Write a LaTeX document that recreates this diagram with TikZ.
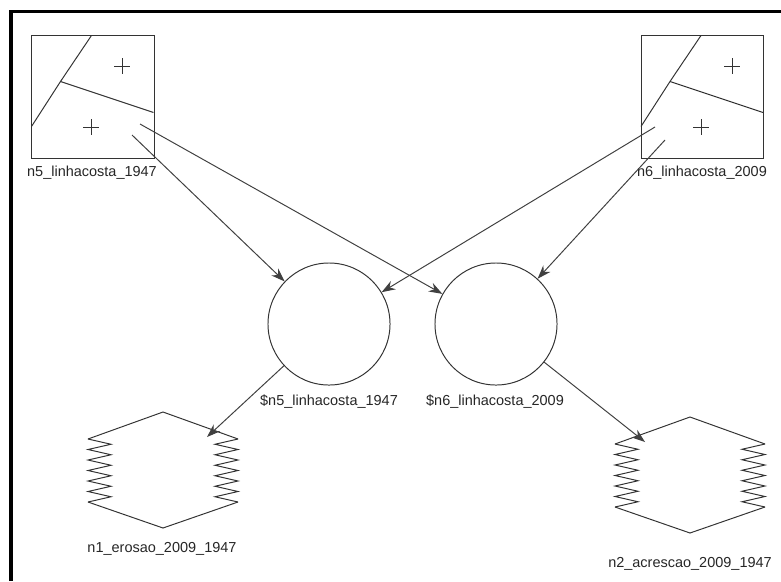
\documentclass[tikz,border=0pt]{standalone}
\usepackage{fontspec}
\setmainfont{Liberation Sans}
\usetikzlibrary{arrows.meta}

% hexagon with jagged sides, centred at (#1,#2)
\newcommand{\hexicon}[2]{%
  \begin{scope}[shift={(#1,#2)}]
    \draw[outl] (-75,-31) -- (0,-58) -- (75,-31);
    \draw[outl] (-75,32) -- (0,58) -- (75,32);
    \draw[outl] (-75,-31) \foreach \k in {0,...,5} { -- (-52,{-31+10.5*\k+5.25}) -- (-75,{-31+10.5*(\k+1)}) };
    \draw[outl] (75,-31) \foreach \k in {0,...,5} { -- (52,{-31+10.5*\k+5.25}) -- (75,{-31+10.5*(\k+1)}) };
  \end{scope}}

% polygons and centroids inside a map box
\newcommand{\mapicon}[1]{%
  \begin{scope}[shift={(#1.north west)}]
    \draw[outl] (60,0) -- (29,46) -- (0,91);
    \draw[outl] (29,46) -- (122,77);
    \draw[outl] (83,31) -- (99,31) (91,23) -- (91,39);
    \draw[outl] (52,92) -- (68,92) (60,84) -- (60,100);
  \end{scope}}

\begin{document}
\begin{tikzpicture}[x=0.025cm, y=-0.025cm, font=\fontsize{10.3}{12}\selectfont,
    outl/.style={draw=black!80, line width=0.7pt},
    mapbox/.style={rectangle, draw=black!80, line width=0.7pt, minimum size=3.05cm, inner sep=0},
    ring/.style={circle, draw=black!80, line width=0.7pt, minimum size=3.05cm, inner sep=0},
    lbl/.style={inner sep=0, text=black!85},
    conn/.style={draw=black!75, line width=0.7pt, -{Stealth[length=0.34cm, width=0.24cm]}}]
  \useasboundingbox (0,0) rectangle (781,581);
  \draw[line width=2.8pt] (11,581) -- (11,11.5) -- (781,11.5);

  % input maps
  \node[mapbox] (n5) at (93,97) {};
  \node[mapbox] (n6) at (702.5,97) {};
  \mapicon{n5}
  \mapicon{n6}
  \node[lbl] (n5lbl) at (92,173) {n5\_linhacosta\_1947};
  \node[lbl] (n6lbl) at (702,173) {n6\_linhacosta\_2009};

  % operations
  \node[ring] (c1) at (329,324) {};
  \node[ring] (c2) at (496,324) {};
  \node[lbl] (c1lbl) at (329,402) {\$n5\_linhacosta\_1947};
  \node[lbl] (c2lbl) at (495,402) {\$n6\_linhacosta\_2009};

  % outputs
  \hexicon{163}{470}
  \hexicon{690}{475}
  \node[lbl] (n1lbl) at (162,549) {n1\_erosao\_2009\_1947};
  \node[lbl] (n2lbl) at (690,564) {n2\_acrescao\_2009\_1947};

  \coordinate (n5a) at (132,135);
  \coordinate (n5b) at (140,124);
  \coordinate (n6a) at (655,127);
  \coordinate (n6b) at (665,140);
  \coordinate (n1in) at (207,437);
  \coordinate (n2in) at (645,442);

  \draw[conn] (n5a) -- (c1);
  \draw[conn] (n5b) -- (c2);
  \draw[conn] (n6a) -- (c1);
  \draw[conn] (n6b) -- (c2);
  \draw[conn] (c1) -- (n1in);
  \draw[conn] (c2) -- (n2in);
\end{tikzpicture}
\end{document}
